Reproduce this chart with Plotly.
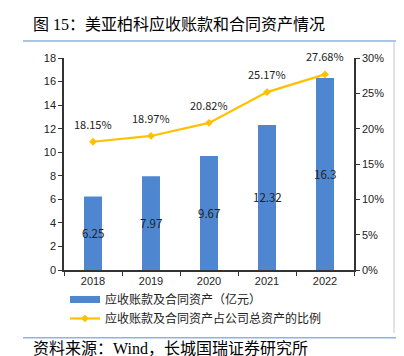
import plotly.graph_objects as go

years = ["2018", "2019", "2020", "2021", "2022"]
receivables = [6.25, 7.97, 9.67, 12.32, 16.3]
ratio_pct = [18.15, 18.97, 20.82, 25.17, 27.68]
bar_name = "应收账款及合同资产（亿元）"
line_name = "应收账款及合同资产占公司总资产的比例"
title_text = "图 15：美亚柏科应收账款和合同资产情况"
source_text = "资料来源：Wind，长城国瑞证券研究所"

W, H = 404, 356
L, R, T, B = 56, 346, 49.5, 262
pw, ph = R - L, B - T

def px_x(x):
    return (x - L) / pw

def px_y(y):
    return (B - y) / ph

sans = "Noto Sans CJK SC, Liberation Sans, sans-serif"
serif = "Liberation Serif, Noto Sans CJK SC, serif"
bar_color = "#4f86d0"
line_color = "#ffc000"

fig = go.Figure()
fig.add_trace(go.Bar(
    x=years, y=receivables, name=bar_name, yaxis="y", showlegend=False,
    marker=dict(color=bar_color, line=dict(width=0)),
    width=0.31,
))
# legend-only entry giving a wide rectangular swatch like the reference
fig.add_trace(go.Scatter(
    x=[None], y=[None], name=bar_name, mode="lines",
    line=dict(color=bar_color, width=7), yaxis="y",
))
fig.add_trace(go.Scatter(
    x=years, y=[v / 100 for v in ratio_pct], name=line_name, yaxis="y2",
    mode="lines+markers",
    line=dict(color=line_color, width=2.2),
    marker=dict(symbol="diamond", size=6, color=line_color),
))

annotations = []
for i, v in enumerate(receivables):
    annotations.append(dict(
        x=i, y=v / 2, xref="x", yref="y", text=f"{v:g}",
        showarrow=False, font=dict(size=11.5, color="#222222", family=sans),
    ))
for i, v in enumerate(ratio_pct):
    annotations.append(dict(
        x=i, y=v / 100, xref="x", yref="y2", text=f"{v:.2f}%",
        showarrow=False, yshift=18, font=dict(size=11, color="#222222", family=sans),
    ))
annotations.append(dict(
    x=px_x(23), y=px_y(15), xref="paper", yref="paper", text=title_text,
    xanchor="left", yanchor="middle", showarrow=False,
    font=dict(size=16, color="#000000", family=serif),
))
annotations.append(dict(
    x=px_x(23), y=px_y(341), xref="paper", yref="paper", text=source_text,
    xanchor="left", yanchor="middle", showarrow=False,
    font=dict(size=16, color="#000000", family=serif),
))

shapes = [
    dict(type="line", xref="paper", yref="paper", x0=px_x(15), x1=px_x(395),
         y0=px_y(32.5), y1=px_y(32.5), line=dict(color="#8db3e2", width=1.5)),
    dict(type="line", xref="paper", yref="paper", x0=px_x(15), x1=px_x(395),
         y0=px_y(330), y1=px_y(330), line=dict(color="#8db3e2", width=1.5)),
    dict(type="line", xref="paper", yref="paper", x0=px_x(386), x1=px_x(386),
         y0=px_y(33), y1=px_y(325), line=dict(color="#cfcfcf", width=1.2)),
]

fig.update_layout(
    width=W, height=H,
    margin=dict(l=L, r=W - R, t=T, b=H - B, pad=0),
    paper_bgcolor="white", plot_bgcolor="white",
    font=dict(family=sans, size=11, color="#222222"),
    showlegend=True,
    legend=dict(x=px_x(57), y=px_y(277), xanchor="left", yanchor="top",
                font=dict(size=12, family=sans, color="#222222"),
                bgcolor="rgba(0,0,0,0)", tracegroupgap=0, itemwidth=30,
                traceorder="normal"),
    xaxis=dict(type="category", range=[-0.5, len(years) - 0.5], autorange=False,
               showline=True, linecolor="#333333", linewidth=1.5,
               ticks="outside", ticklen=4, tickcolor="#333333", tickson="boundaries",
               showgrid=False, tickangle=0,
               tickfont=dict(size=11, family="Liberation Sans, sans-serif")),
    yaxis=dict(range=[0, 18], dtick=2, showline=True, linecolor="#333333", linewidth=1.5,
               ticks="outside", ticklen=4, tickcolor="#333333", showgrid=False, zeroline=False,
               tickfont=dict(size=11, family="Liberation Sans, sans-serif")),
    yaxis2=dict(range=[0, 0.30], dtick=0.05, tickformat=".0%", overlaying="y", side="right",
                showline=True, linecolor="#333333", linewidth=1.5,
                ticks="outside", ticklen=4, tickcolor="#333333", showgrid=False, zeroline=False,
                tickfont=dict(size=11, family="Liberation Sans, sans-serif")),
    annotations=annotations,
    shapes=shapes,
    bargap=0.69,
)

fig.write_html("out.html")
